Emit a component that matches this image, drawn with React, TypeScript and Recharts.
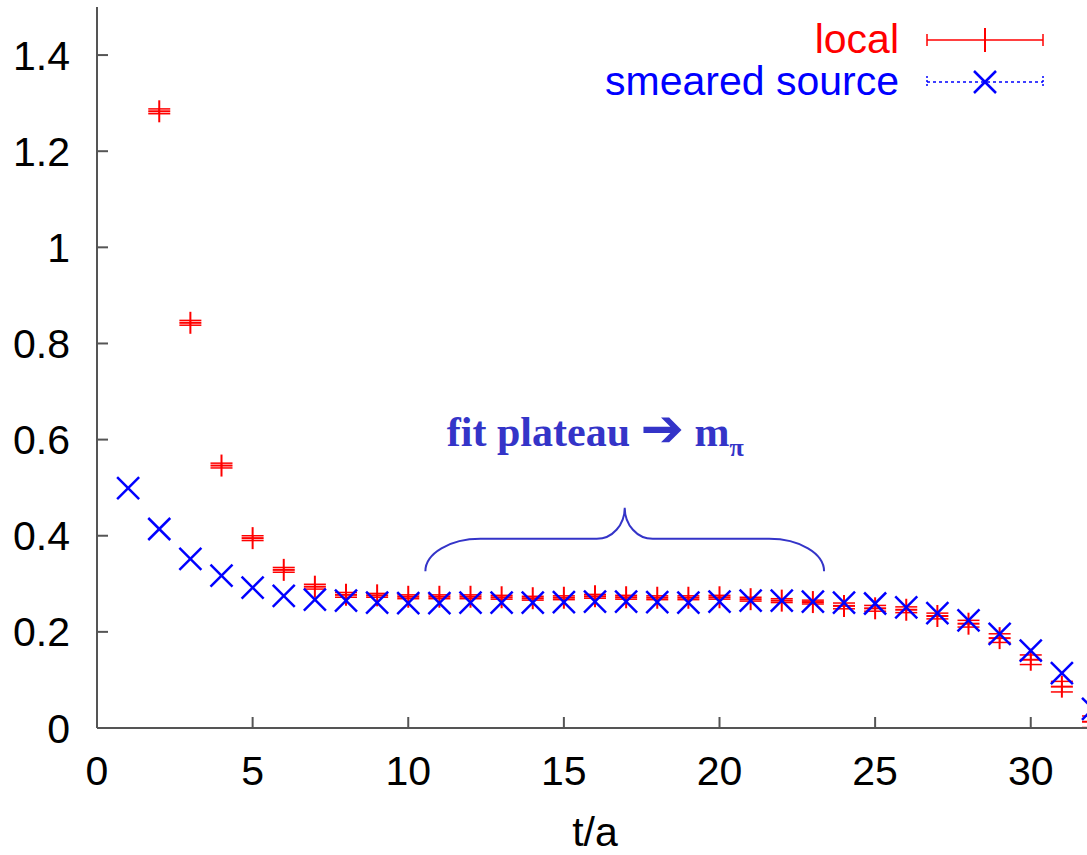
import {
  ScatterChart,
  Scatter,
  XAxis,
  YAxis,
  ErrorBar,
  ReferenceArea,
  ReferenceDot,
  Legend,
} from "recharts";

// effective mass vs t/a
const T_LOCAL = [2, 3, 4, 5, 6, 7, 8, 9, 10, 11, 12, 13, 14, 15, 16, 17, 18, 19, 20, 21, 22, 23, 24, 25, 26, 27, 28, 29, 30, 31, 32];
const LOCAL = [
  1.283, 0.843, 0.546, 0.395, 0.329, 0.294, 0.277, 0.276, 0.273, 0.273, 0.273, 0.272, 0.27, 0.271, 0.274, 0.272,
  0.271, 0.271, 0.272, 0.268, 0.265, 0.262, 0.254, 0.249, 0.246, 0.233, 0.217, 0.187, 0.142, 0.086, 0.013,
];
const LOCAL_ERR = [
  0.005, 0.005, 0.005, 0.005, 0.005, 0.005, 0.005, 0.004, 0.004, 0.004, 0.004, 0.004, 0.004, 0.004, 0.004, 0.004,
  0.004, 0.004, 0.004, 0.004, 0.004, 0.004, 0.006, 0.006, 0.006, 0.006, 0.007, 0.009, 0.01, 0.011, 0.012,
];

const T_SMEARED = [1, 2, 3, 4, 5, 6, 7, 8, 9, 10, 11, 12, 13, 14, 15, 16, 17, 18, 19, 20, 21, 22, 23, 24, 25, 26, 27, 28, 29, 30, 31, 32];
const SMEARED = [
  0.499, 0.414, 0.352, 0.317, 0.292, 0.275, 0.267, 0.265, 0.261, 0.26, 0.26, 0.261, 0.261, 0.261, 0.262, 0.263,
  0.263, 0.262, 0.261, 0.263, 0.265, 0.265, 0.263, 0.261, 0.259, 0.251, 0.239, 0.224, 0.196, 0.161, 0.114, 0.04,
];

const X_TICKS = [0, 5, 10, 15, 20, 25, 30];
const Y_TICKS = [0, 0.2, 0.4, 0.6, 0.8, 1, 1.2, 1.4];

// plateau brace and its caption
const PLATEAU_FROM = 10.55;
const PLATEAU_TO = 23.36;
const BRACE_LOW = 0.326;
const BRACE_HIGH = 0.458;
const CAPTION_T = 11.24;
const CAPTION_Y = 0.586;

const localData = T_LOCAL.map((t, i) => ({ t, v: LOCAL[i], err: LOCAL_ERR[i] }));
const smearedData = T_SMEARED.map((t, i) => ({ t, v: SMEARED[i] }));

const FRAME = "#555";
const RED = "#ff0000";
const BLUE = "#0000ff";
const NOTE = "#3434c8";
const FONT = "'Liberation Sans', Arial, sans-serif";

const tickStyle = { fontFamily: FONT, fontSize: 41, fill: "#000" };

const Plus = (p: any) => (
  <g stroke={RED} strokeWidth={2}>
    <line x1={p.cx - 11} y1={p.cy} x2={p.cx + 11} y2={p.cy} />
    <line x1={p.cx} y1={p.cy - 11} x2={p.cx} y2={p.cy + 11} />
  </g>
);

const Cross = (p: any) => (
  <g stroke={BLUE} strokeWidth={2.5}>
    <line x1={p.cx - 11} y1={p.cy - 11} x2={p.cx + 11} y2={p.cy + 11} />
    <line x1={p.cx - 11} y1={p.cy + 11} x2={p.cx + 11} y2={p.cy - 11} />
  </g>
);

const Brace = (p: any) => {
  const x0 = p.x;
  const x1 = p.x + p.width;
  const yt = p.y;
  const yb = p.y + p.height;
  const ym = yt + 31;
  const xc = (x0 + x1) / 2;
  const d = `M ${x0} ${yb} A 55 ${yb - ym} 0 0 1 ${x0 + 55} ${ym} L ${xc - 28} ${ym} A 28 ${ym - yt} 0 0 0 ${xc} ${yt} A 28 ${ym - yt} 0 0 0 ${xc + 28} ${ym} L ${x1 - 55} ${ym} A 55 ${yb - ym} 0 0 1 ${x1} ${yb}`;
  return <path d={d} fill="none" stroke={NOTE} strokeWidth={2} />;
};

const Caption = (p: any) => (
  <text
    x={p.cx}
    y={p.cy}
    fill={NOTE}
    fontFamily="'Liberation Serif', 'Times New Roman', serif"
    fontWeight="bold"
    fontSize={42}
  >
    fit plateau{" "}
    <tspan fontFamily="'DejaVu Sans', sans-serif" fontSize={52} fontWeight="bold">➔</tspan>
    <tspan> m</tspan>
    <tspan fontSize={26} dy={10}>π</tspan>
  </text>
);

const KeyBox = () => (
  <svg width={1100} height={110} style={{ display: "block" }}>
    <g fontFamily={FONT} fontSize={41} textAnchor="end">
      <text x={899} y={53} fill={RED}>local</text>
      <text x={899} y={95} fill={BLUE}>smeared source</text>
    </g>
    <g stroke={RED} strokeWidth={1.5}>
      <line x1={927} y1={40} x2={1043} y2={40} />
      <line x1={927} y1={34} x2={927} y2={46} />
      <line x1={1043} y1={34} x2={1043} y2={46} />
      <line x1={985} y1={28} x2={985} y2={52} strokeWidth={2} />
    </g>
    <g stroke={BLUE} strokeWidth={1.5}>
      <line x1={927} y1={82} x2={1043} y2={82} strokeDasharray="3 3" />
      <line x1={927} y1={76} x2={927} y2={88} strokeDasharray="2 2" />
      <line x1={1043} y1={76} x2={1043} y2={88} strokeDasharray="2 2" />
      <line x1={974} y1={71} x2={996} y2={93} strokeWidth={2.5} />
      <line x1={974} y1={93} x2={996} y2={71} strokeWidth={2.5} />
    </g>
  </svg>
);

export default function App() {
  return (
    <div
      style={{
        position: "absolute",
        left: 0,
        top: 0,
        width: 1087,
        height: 855,
        overflow: "hidden",
        background: "#fff",
      }}
    >
      <ScatterChart width={1100} height={855} margin={{ top: 7, right: 7, bottom: 0, left: 0 }}>
        <XAxis
          dataKey="t"
          type="number"
          domain={[0, 32]}
          ticks={X_TICKS}
          interval={0}
          allowDataOverflow
          height={127}
          tickSize={-11}
          tickMargin={39}
          tick={tickStyle}
          axisLine={{ stroke: FRAME, strokeWidth: 2 }}
          tickLine={{ stroke: FRAME, strokeWidth: 2 }}
          label={{ value: "t/a", position: "insideBottom", offset: 9, style: tickStyle }}
        />
        <XAxis
          xAxisId="top"
          orientation="top"
          type="number"
          domain={[0, 32]}
          ticks={X_TICKS}
          interval={0}
          allowDataOverflow
          height={0}
          tick={false}
          tickSize={-11}
          axisLine={{ stroke: FRAME, strokeWidth: 2 }}
          tickLine={{ stroke: FRAME, strokeWidth: 2 }}
        />
        <YAxis
          dataKey="v"
          type="number"
          domain={[0, 1.5]}
          ticks={Y_TICKS}
          interval={0}
          allowDataOverflow
          width={97}
          tickSize={-11}
          tickMargin={38}
          tick={tickStyle}
          axisLine={{ stroke: FRAME, strokeWidth: 2 }}
          tickLine={{ stroke: FRAME, strokeWidth: 2 }}
        />
        <YAxis
          yAxisId="right"
          orientation="right"
          type="number"
          domain={[0, 1.5]}
          ticks={Y_TICKS}
          interval={0}
          allowDataOverflow
          width={0}
          tick={false}
          tickSize={-11}
          axisLine={{ stroke: FRAME, strokeWidth: 2 }}
          tickLine={{ stroke: FRAME, strokeWidth: 2 }}
        />
        <Legend
          layout="horizontal"
          verticalAlign="middle"
          align="center"
          wrapperStyle={{ position: "absolute", top: 0, left: 0, width: 1100, height: 110 }}
          content={() => <KeyBox />}
        />
        <ReferenceArea
          x1={PLATEAU_FROM}
          x2={PLATEAU_TO}
          y1={BRACE_LOW}
          y2={BRACE_HIGH}
          shape={<Brace />}
        />
        <ReferenceDot x={CAPTION_T} y={CAPTION_Y} shape={<Caption />} />
        <Scatter name="local" data={localData} shape={<Plus />} isAnimationActive={false}>
          <ErrorBar dataKey="err" direction="y" width={11} stroke={RED} strokeWidth={1.5} />
        </Scatter>
        <Scatter name="smeared source" data={smearedData} shape={<Cross />} isAnimationActive={false} />
      </ScatterChart>
    </div>
  );
}
